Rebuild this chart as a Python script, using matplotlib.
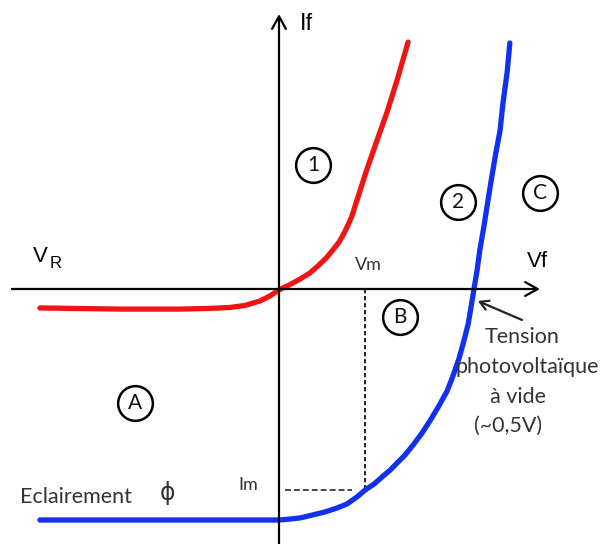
import matplotlib.pyplot as plt

# Dark characteristic (1) and illuminated characteristic (2) of a photodiode
v_dark = [-0.613, -0.408, -0.254, -0.177, -0.126, -0.087, -0.049, -0.023, 0.0,
          0.028, 0.054, 0.079, 0.100, 0.121, 0.138, 0.154, 0.167, 0.177,
          0.187, 0.200, 0.223, 0.249, 0.277, 0.303, 0.331]
i_dark = [-8.2, -8.7, -8.7, -8.4, -8.0, -7.1, -5.2, -3.0, -0.4,
          1.9, 4.3, 6.9, 10.0, 13.4, 16.9, 20.3, 24.2, 27.7,
          31.6, 38.5, 50.6, 63.2, 76.6, 90.5, 106.9]

v_light = [-0.613, -0.305, 0.0, 0.028, 0.054, 0.087, 0.118, 0.149, 0.174,
           0.200, 0.221, 0.244, 0.264, 0.285, 0.303, 0.323, 0.344, 0.367,
           0.387, 0.410, 0.431, 0.446, 0.462, 0.474, 0.485, 0.492, 0.500,
           0.508, 0.515, 0.526, 0.536, 0.546, 0.556, 0.567, 0.574, 0.585, 0.592]
i_light = [-100.0, -100.0, -100.0, -99.6, -99.1, -97.8, -96.5, -94.8, -93.1,
           -90.0, -87.0, -84.4, -81.4, -78.4, -75.3, -71.9, -67.5, -62.3,
           -57.1, -50.6, -44.2, -37.7, -29.9, -22.5, -15.2, -8.2, 0.0,
           8.2, 16.9, 27.7, 38.5, 48.9, 58.9, 68.8, 80.1, 93.9, 106.5]

# maximum power point and open-circuit voltage
vm, im = 0.221, -87.0
voc = 0.5

# circled region / curve labels
zone_names = ['1', '2', 'C', 'A', 'B']
zone_v = [0.087, 0.459, 0.669, -0.369, 0.310]
zone_i = [53.7, 37.7, 41.6, -49.4, -12.1]

info_lines = ['Tension', 'photovoltaïque', 'à vide', '(~0,5V)']
info_v = [0.623, 0.636, 0.613, 0.587]
info_i = [-23.4, -36.4, -49.4, -61.9]

red = '#f01414'
blue = '#1230f0'
grey = '#333333'
body = 'Lato'
arial = 'Liberation Sans'

fig = plt.figure(figsize=(6.11, 5.44), dpi=100)
ax = fig.add_axes([0, 0, 1, 1])
ax.set_xlim(-0.7154, 0.8513)
ax.set_ylim(-110.39, 125.11)
ax.axis('off')

# axes with open arrow heads
ax.annotate('', xy=(0.669, 0), xytext=(-0.685, 0),
            arrowprops=dict(arrowstyle='->,head_length=0.9,head_width=0.5',
                            lw=1.6, color='black', shrinkA=0, shrinkB=0))
ax.annotate('', xy=(0, 119.0), xytext=(0, -110.4),
            arrowprops=dict(arrowstyle='->,head_length=0.9,head_width=0.5',
                            lw=1.6, color='black', shrinkA=0, shrinkB=0))

# Vm / Im construction lines
ax.plot([vm, vm], [0, im], ls=(0, (2.2, 1.4)), color='#222222', lw=1.4)
ax.plot([0.015, 0.188], [im, im], ls=(0, (3.0, 1.6)), color='#5a3c3c', lw=1.4)

# curves
ax.plot(v_dark, i_dark, color=red, lw=3.8, solid_capstyle='round',
        solid_joinstyle='round')
ax.plot(v_light, i_light, color=blue, lw=3.8, solid_capstyle='round',
        solid_joinstyle='round')

# circled labels
ax.plot(zone_v, zone_i, ls='none', marker='o', ms=25, mfc='none',
        mec='black', mew=1.8)
for name, v, i in zip(zone_names, zone_v, zone_i):
    ax.text(v, i, name, ha='center', va='center', fontsize=15,
            family=body, color='#111111')

# axis names
ax.text(0.054, 112.1, 'If', ha='left', va='baseline', fontsize=17, family=arial)
ax.text(0.636, 9.5, 'Vf', ha='left', va='baseline', fontsize=16, family=arial)
ax.text(-0.631, 11.7, 'V', ha='left', va='baseline', fontsize=16, family=arial)
ax.text(-0.587, 9.1, 'R', ha='left', va='baseline', fontsize=12, family=arial)

ax.text(0.228, 8.2, 'Vm', ha='center', va='baseline', fontsize=13,
        family=body, color=grey)
ax.text(-0.080, -87.0, 'Im', ha='center', va='baseline', fontsize=13,
        family=body, color=grey)
ax.text(-0.664, -92.6, 'Eclairement', ha='left', va='baseline', fontsize=15.5,
        family=body, color=grey)
ax.text(-0.285, -88.3, 'ϕ', ha='center', va='center', fontsize=17,
        family='DejaVu Sans', color=grey)

# open-circuit voltage note
ax.annotate('', xy=(voc + 0.010, -5.2), xytext=(0.623, -13.4),
            arrowprops=dict(arrowstyle='->,head_length=0.6,head_width=0.35',
                            lw=1.6, color='#222222', shrinkA=0, shrinkB=0))
for line, v, i in zip(info_lines, info_v, info_i):
    ax.text(v, i, line, ha='center', va='baseline', fontsize=15.5,
            family=body, color=grey)

fig.savefig('out.png', dpi=100)
